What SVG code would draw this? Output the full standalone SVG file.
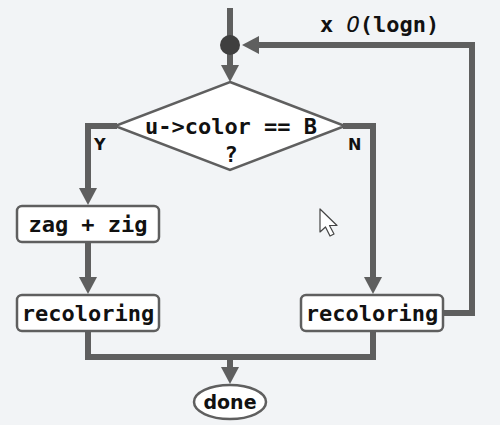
<svg xmlns="http://www.w3.org/2000/svg" width="500" height="425" viewBox="0 0 500 425">
<defs>
<marker id="ah" markerUnits="userSpaceOnUse" markerWidth="18" markerHeight="18" refX="2" refY="9" orient="auto" overflow="visible">
<path d="M0,0 L17,9 L0,18 z" fill="#5f5f5f"/>
</marker>
<style>
.ln{fill:none;stroke:#5f5f5f;stroke-width:6}
.box{fill:#fff;stroke:#5f5f5f;stroke-width:2.5}
.mono{font-family:"DejaVu Sans Mono","Liberation Mono",monospace;font-weight:bold;font-size:22px;fill:#111}
.lbl{font-family:"DejaVu Sans","Liberation Sans",sans-serif;font-weight:bold;font-size:16px;fill:#111}
</style>
</defs>
<rect width="500" height="425" fill="#f2f4f6"/>
<g id="connectors">
<path class="ln" d="M230,8 V45"/>
<path class="ln" d="M230,45 V67" marker-end="url(#ah)"/>
<path class="ln" d="M117,126 H88 V190" marker-end="url(#ah)"/>
<path class="ln" d="M88,242 V279" marker-end="url(#ah)"/>
<path class="ln" d="M343,126 H373 V279" marker-end="url(#ah)"/>
<path class="ln" d="M443,313 H472 V45 H257" marker-end="url(#ah)"/>
<path class="ln" d="M88,331 V357 H373 V331"/>
<path class="ln" d="M230,357 V369" marker-end="url(#ah)"/>
</g>
<g id="junction"><circle cx="230" cy="45" r="10" fill="#3f3f3f"/></g>
<g id="loop-label"><text x="320" y="32" class="mono">x <tspan font-style="italic" font-weight="normal">O</tspan>(logn)</text></g>
<g id="decision">
<path class="box" d="M230,82 L345,126 L230,170 L115,126 Z"/>
<text x="231" y="134" class="mono" text-anchor="middle">u-&gt;color == B</text>
<text x="231" y="162" class="mono" text-anchor="middle">?</text>
</g>
<g id="label-y"><text x="94" y="150" class="lbl">Y</text></g>
<g id="label-n"><text x="348" y="150" class="lbl">N</text></g>
<g id="zagzig">
<rect class="box" x="17" y="206" width="142" height="36" rx="5"/>
<text x="88" y="232" class="mono" text-anchor="middle">zag + zig</text>
</g>
<g id="recolor-left">
<rect class="box" x="17" y="295" width="142" height="36" rx="5"/>
<text x="88" y="321" class="mono" text-anchor="middle">recoloring</text>
</g>
<g id="recolor-right">
<rect class="box" x="301" y="295" width="142" height="36" rx="5"/>
<text x="372" y="321" class="mono" text-anchor="middle">recoloring</text>
</g>
<g id="done">
<ellipse class="box" cx="230" cy="402" rx="36" ry="17"/>
<text x="230" y="409" text-anchor="middle" font-family="DejaVu Sans, Liberation Sans, sans-serif" font-weight="bold" font-size="19" fill="#111">done</text>
</g>
<g id="cursor">
<path d="M320,209 L320,232 L325.5,227 L330,236 L334,234 L329.5,225.5 L337,225.5 Z" fill="#fff" stroke="#444" stroke-width="1.2" stroke-linejoin="round"/>
</g>
</svg>
